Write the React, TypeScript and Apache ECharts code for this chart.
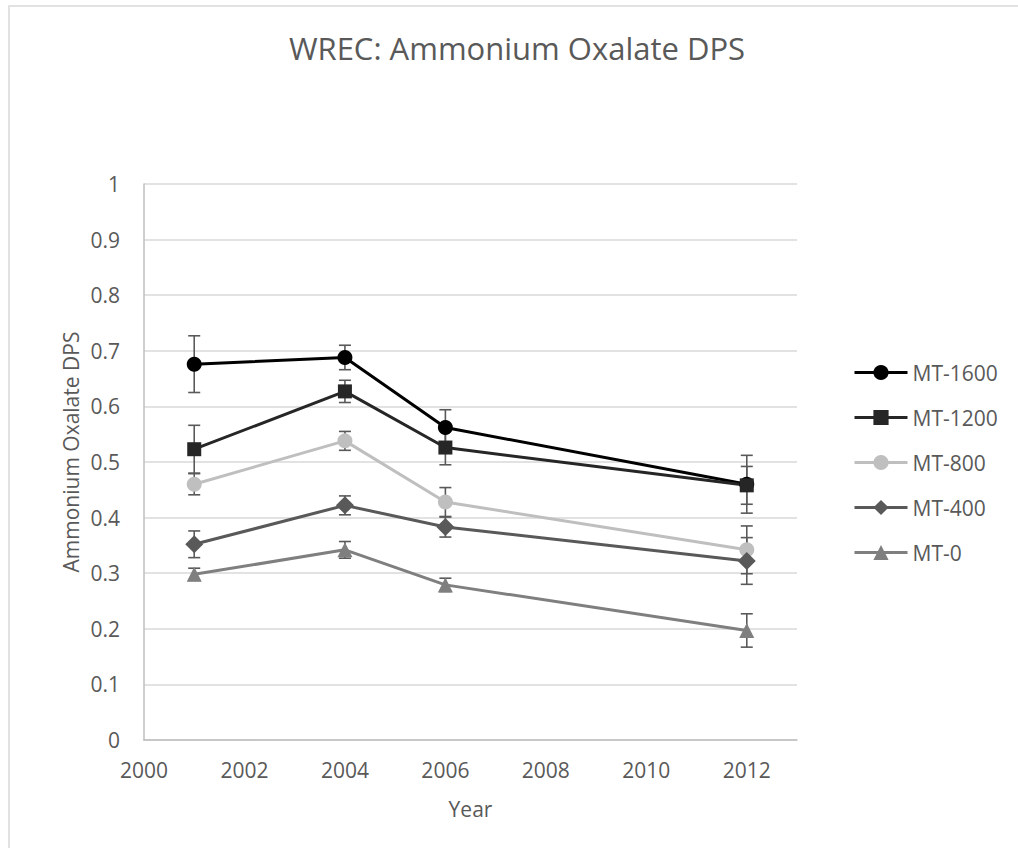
import React, { useEffect, useRef } from "react";
import * as echarts from "echarts";

const titleText = "WREC: Ammonium Oxalate DPS";
const xAxisName = "Year";
const yAxisName = "Ammonium Oxalate DPS";

const years = [2001, 2004, 2006, 2012];
const seriesNames = ["MT-1600", "MT-1200", "MT-800", "MT-400", "MT-0"];

const mt1600 = [0.676, 0.688, 0.562, 0.46];
const mt1600Err = [0.051, 0.022, 0.032, 0.052];
const mt1200 = [0.523, 0.627, 0.526, 0.458];
const mt1200Err = [0.043, 0.02, 0.031, 0.034];
const mt800 = [0.46, 0.538, 0.428, 0.342];
const mt800Err = [0.019, 0.017, 0.026, 0.043];
const mt400 = [0.352, 0.422, 0.383, 0.322];
const mt400Err = [0.024, 0.017, 0.018, 0.042];
const mt0 = [0.298, 0.342, 0.279, 0.197];
const mt0Err = [0.011, 0.015, 0.012, 0.03];

const xTicks = { min: 2000, max: 2013, interval: 2 };
const yTicks = { min: 0, max: 1, interval: 0.1 };

const seriesValues = [mt1600, mt1200, mt800, mt400, mt0];
const seriesErrors = [mt1600Err, mt1200Err, mt800Err, mt400Err, mt0Err];
const seriesColors = ["#000000", "#262626", "#bfbfbf", "#595959", "#7f7f7f"];
const seriesSymbols = ["circle", "rect", "circle", "diamond", "triangle"];
const seriesSymbolSizes = [15, 14, 15, 18, 15];

const FONT = "'Open Sans', 'Noto Sans', sans-serif";
const TEXT_COLOR = "#595959";

export default function App() {
  const ref = useRef<HTMLDivElement>(null);

  useEffect(() => {
    document.body.style.margin = "0";
    if (!ref.current) return;
    const chart = echarts.init(ref.current, null, { renderer: "svg" });

    const errData: number[][] = [];
    seriesValues.forEach((vals, si) => {
      vals.forEach((v, i) => {
        errData.push([years[i], v, seriesErrors[si][i]]);
      });
    });

    const lineSeries = seriesNames.map((name, si) => ({
      name,
      type: "line",
      data: years.map((y, i) => [y, seriesValues[si][i]]),
      symbol: seriesSymbols[si],
      symbolSize: seriesSymbolSizes[si],
      showAllSymbols: true,
      lineStyle: { color: seriesColors[si], width: 3 },
      itemStyle: { color: seriesColors[si] },
      z: 3,
    }));

    const errorSeries = {
      type: "custom",
      name: "errors",
      z: 2,
      data: errData,
      renderItem: (params: any, api: any) => {
        const x = api.value(0);
        const y = api.value(1);
        const e = api.value(2);
        const top = api.coord([x, y + e]);
        const bot = api.coord([x, y - e]);
        const hw = 6;
        const style = { stroke: "#595959", lineWidth: 1.6 };
        return {
          type: "group",
          children: [
            { type: "line", shape: { x1: top[0], y1: top[1], x2: bot[0], y2: bot[1] }, style },
            { type: "line", shape: { x1: top[0] - hw, y1: top[1], x2: top[0] + hw, y2: top[1] }, style },
            { type: "line", shape: { x1: bot[0] - hw, y1: bot[1], x2: bot[0] + hw, y2: bot[1] }, style },
          ],
        };
      },
    };

    chart.setOption({
      animation: false,
      backgroundColor: "#ffffff",
      textStyle: { fontFamily: FONT },
      title: {
        text: titleText,
        left: 512,
        textAlign: "center",
        top: 27,
        textStyle: { fontFamily: FONT, fontSize: 31, fontWeight: "normal", color: TEXT_COLOR },
      },
      graphic: [
        {
          type: "rect",
          shape: { x: 9, y: 6, width: 1100, height: 1000 },
          style: { fill: "none", stroke: "#d9d9d9", lineWidth: 1.5 },
          silent: true,
        },
        {
          type: "text",
          x: 71,
          y: 452,
          rotation: Math.PI / 2,
          style: {
            text: yAxisName,
            align: "center",
            verticalAlign: "middle",
            fontFamily: FONT,
            fontSize: 21,
            fill: TEXT_COLOR,
          },
          silent: true,
        },
      ],
      legend: {
        data: seriesNames,
        orient: "vertical",
        left: 853,
        top: 362,
        itemWidth: 53,
        itemHeight: 19,
        itemGap: 24,
        padding: 0,
        lineStyle: { width: 3 },
        textStyle: { fontFamily: FONT, fontSize: 21, color: TEXT_COLOR },
      },
      grid: { left: 144, top: 184, right: 221, bottom: 108, containLabel: false },
      xAxis: {
        type: "value",
        min: xTicks.min,
        max: xTicks.max,
        interval: xTicks.interval,
        name: xAxisName,
        nameLocation: "middle",
        nameGap: 58,
        nameTextStyle: { fontFamily: FONT, fontSize: 21, color: TEXT_COLOR },
        axisLine: { show: true, lineStyle: { color: "#bfbfbf", width: 1.5 } },
        axisTick: { show: false },
        splitLine: { show: false },
        axisLabel: {
          showMaxLabel: false,
          margin: 19,
          fontFamily: FONT,
          fontSize: 21,
          color: TEXT_COLOR,
          formatter: (v: number) => (v === xTicks.max ? "" : String(v)),
        },
      },
      yAxis: {
        type: "value",
        min: yTicks.min,
        max: yTicks.max,
        interval: yTicks.interval,
        axisLine: { show: true, lineStyle: { color: "#bfbfbf", width: 1.5 } },
        axisTick: { show: false },
        splitLine: { show: true, lineStyle: { color: "#d9d9d9", width: 1.5 } },
        axisLabel: {
          margin: 24,
          fontFamily: FONT,
          fontSize: 21,
          color: TEXT_COLOR,
          formatter: (v: number) => String(Math.round(v * 10) / 10),
        },
      },
      series: [errorSeries, ...lineSeries],
    });

    return () => {
      chart.dispose();
    };
  }, []);

  return <div ref={ref} style={{ width: 1018, height: 848 }} />;
}
